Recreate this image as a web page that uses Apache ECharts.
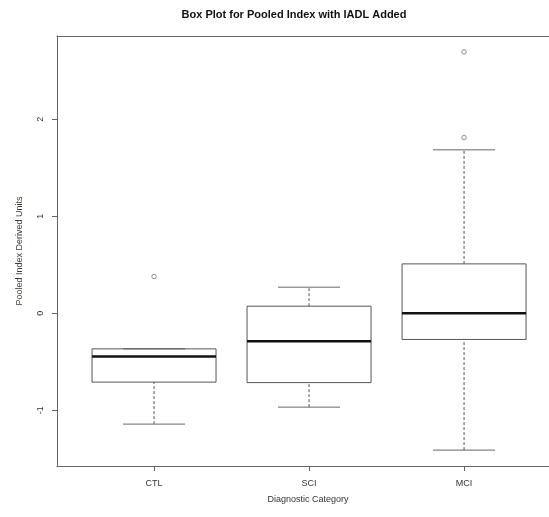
<!DOCTYPE html>
<html>
<head>
<meta charset="utf-8">
<script src="https://cdn.jsdelivr.net/npm/echarts@6/dist/echarts.min.js"></script>
<style>
  html, body { margin: 0; padding: 0; background: #fff; }
  #chart { width: 549px; height: 517px; }
</style>
</head>
<body>
<div id="chart"></div>
<script>
// Five-number summaries per diagnostic group (pooled index with IADL)
const categories = ['CTL', 'SCI', 'MCI'];
const whiskerLow = [-1.144, -0.969, -1.412];
const q1 = [-0.711, -0.716, -0.271];
const median = [-0.447, -0.289, 0.0];
const q3 = [-0.368, 0.072, 0.508];
const whiskerHigh = [-0.368, 0.268, 1.684];
// Outlying observations: [group position (1-based), value]
const outliers = [[1, 0.378], [3, 1.811], [3, 2.694]];
const yTicks = [-1, 0, 1, 2];

const boxData = categories.map((c, i) =>
  [i + 1, whiskerLow[i], q1[i], median[i], q3[i], whiskerHigh[i]]);

const FONT = 'Liberation Sans, Arial, sans-serif';
const LINE = '#555';
const FRAME = '#666';
const X_MIN = 0.374, X_MAX = 3.548;

function renderBox(params, api) {
  const x = api.value(0);
  const lo = api.value(1), b1 = api.value(2), md = api.value(3),
        b3 = api.value(4), hi = api.value(5);
  const halfBox = 0.4, halfCap = 0.2;
  const pL = api.coord([x - halfBox, b3]);
  const pR = api.coord([x + halfBox, b1]);
  const c = (v) => api.coord([x, v]);
  const capL = (v) => api.coord([x - halfCap, v]);
  const capR = (v) => api.coord([x + halfCap, v]);
  const mL = api.coord([x - halfBox, md]);
  const mR = api.coord([x + halfBox, md]);
  const children = [];
  // dashed whiskers (skipped when they have no length)
  [[lo, b1], [b3, hi]].forEach(([a, b]) => {
    if (Math.abs(a - b) < 1e-9) return;
    children.push({
      type: 'line',
      shape: { x1: c(a)[0], y1: c(a)[1], x2: c(b)[0], y2: c(b)[1] },
      style: { stroke: LINE, lineWidth: 1, lineDash: [3, 2] }
    });
  });
  // staples
  [lo, hi].forEach(v => {
    children.push({
      type: 'line',
      shape: { x1: capL(v)[0], y1: capL(v)[1], x2: capR(v)[0], y2: capR(v)[1] },
      style: { stroke: '#666', lineWidth: 1 }
    });
  });
  // box
  children.push({
    type: 'rect',
    shape: { x: pL[0], y: pL[1], width: pR[0] - pL[0], height: pR[1] - pL[1] },
    style: { fill: 'none', stroke: LINE, lineWidth: 1 }
  });
  // median
  children.push({
    type: 'line',
    shape: { x1: mL[0], y1: mL[1], x2: mR[0], y2: mR[1] },
    style: { stroke: '#111', lineWidth: 2.5 }
  });
  return { type: 'group', children };
}

const chart = echarts.init(document.getElementById('chart'), null, { renderer: 'canvas' });
chart.setOption({
  animation: false,
  backgroundColor: '#fff',
  title: {
    text: 'Box Plot for Pooled Index with IADL Added',
    left: 289, top: 4, textAlign: 'center',
    textStyle: { fontFamily: FONT, fontSize: 11, fontWeight: 'bold', color: '#111' }
  },
  grid: {
    left: 57, top: 36, right: 0, height: 430,
    show: false
  },
  xAxis: [
    {
      type: 'value', min: X_MIN, max: X_MAX, position: 'bottom',
      name: 'Diagnostic Category', nameLocation: 'middle', nameGap: 29,
      nameTextStyle: { fontFamily: FONT, fontSize: 9, color: '#333', padding: [0, 0, 0, 10] },
      axisLine: { show: true, onZero: false, lineStyle: { color: FRAME, width: 1 } },
      splitLine: { show: false },
      axisTick: { show: true, length: 5, customValues: [1, 2, 3], lineStyle: { color: FRAME } },
      axisLabel: {
        customValues: [1, 2, 3], margin: 13,
        formatter: (v) => categories[Math.round(v) - 1] || '',
        fontFamily: FONT, fontSize: 9, color: '#333'
      }
    },
    {
      // top edge of the plot frame
      type: 'value', min: X_MIN, max: X_MAX, position: 'top',
      axisLine: { show: true, onZero: false, lineStyle: { color: FRAME, width: 1 } },
      axisTick: { show: false }, axisLabel: { show: false }, splitLine: { show: false }
    }
  ],
  yAxis: {
    type: 'value', min: -1.576, max: 2.858,
    name: 'Pooled Index Derived Units', nameLocation: 'middle', nameGap: 33, nameRotate: 90,
    nameTextStyle: { fontFamily: FONT, fontSize: 9, color: '#443c34' },
    axisLine: { show: true, onZero: false, lineStyle: { color: FRAME, width: 1 } },
    splitLine: { show: false },
    axisTick: { show: true, length: 5, customValues: yTicks, lineStyle: { color: FRAME } },
    axisLabel: {
      customValues: yTicks, rotate: 90, margin: 12,
      fontFamily: FONT, fontSize: 9, color: '#333'
    }
  },
  series: [
    {
      type: 'custom',
      renderItem: renderBox,
      data: boxData,
      encode: { x: 0, y: [1, 2, 3, 4, 5] },
      clip: false
    },
    {
      type: 'scatter',
      data: outliers,
      symbol: 'circle', symbolSize: 4.5,
      itemStyle: { color: '#fff', borderColor: '#777', borderWidth: 1 }
    }
  ]
});
</script>
</body>
</html>
